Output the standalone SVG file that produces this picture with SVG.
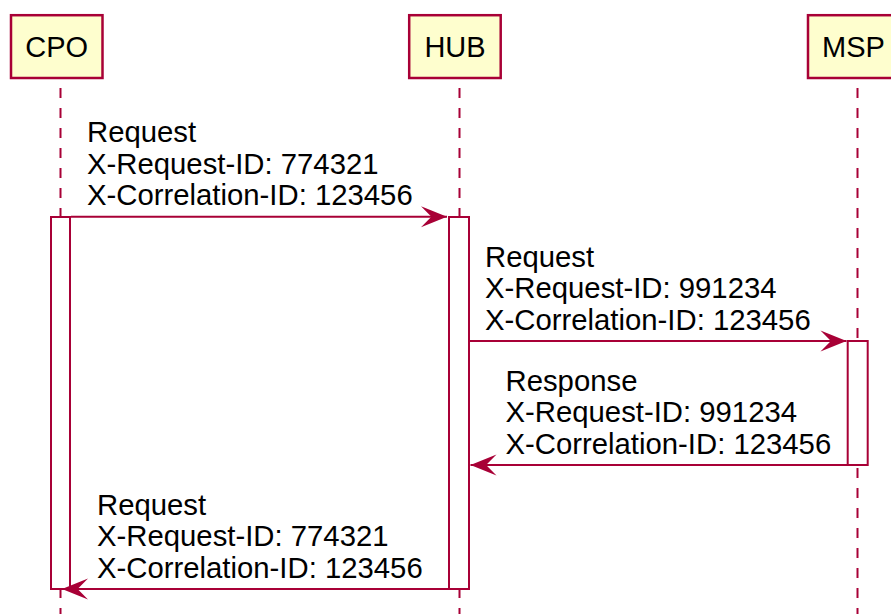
<svg xmlns="http://www.w3.org/2000/svg" width="891" height="614" viewBox="0 0 891 614">
<style>
.part{fill:#FEFECE;stroke:#A80036;stroke-width:2.5}
.ptxt{font-family:"Liberation Sans",Arial,sans-serif;font-size:29px;fill:#000;text-anchor:middle}
.life{stroke:#A80036;stroke-width:2;stroke-dasharray:10,10;fill:none}
.act{fill:#FFFFFF;stroke:#A80036;stroke-width:2}
.msg{stroke:#A80036;stroke-width:2;fill:none;marker-end:url(#arr)}
.mtxt{font-family:"Liberation Sans",Arial,sans-serif;font-size:29.3px;fill:#000}
</style>
<defs>
<marker id="arr" markerUnits="userSpaceOnUse" markerWidth="28" markerHeight="24" viewBox="0 0 28 24" refX="27" refY="12" orient="auto">
<path d="M1,1.5 L27,12 L1,22.5 L11.4,12 Z" fill="#A80036"/>
</marker>
</defs>
<rect width="891" height="614" fill="#FFFFFF"/>
<g id="lifelines">
<line class="life" x1="60.5" y1="88" x2="60.5" y2="614"/>
<line class="life" x1="459.5" y1="88" x2="459.5" y2="614"/>
<line class="life" x1="857.5" y1="88" x2="857.5" y2="614"/>
</g>
<g id="CPO">
<rect class="part" x="11" y="15.2" width="91.5" height="62.8"/>
<text class="ptxt" x="56.7" y="56.5">CPO</text>
<rect class="act" x="51" y="217" width="19" height="372"/>
</g>
<g id="HUB">
<rect class="part" x="409.2" y="15.2" width="91.5" height="62.8"/>
<text class="ptxt" x="455" y="56.5">HUB</text>
<rect class="act" x="449" y="217" width="20" height="372"/>
</g>
<g id="MSP">
<rect class="part" x="808" y="15.2" width="91.5" height="62.8"/>
<text class="ptxt" x="853.5" y="56.5">MSP</text>
<rect class="act" x="847.7" y="341" width="20" height="124"/>
</g>
<g id="connectors">
<line class="msg" x1="71" y1="216.8" x2="447" y2="216.8"/>
<line class="msg" x1="470" y1="341" x2="846.5" y2="341"/>
<line class="msg" x1="847" y1="465" x2="470.5" y2="465"/>
<line class="msg" x1="448" y1="589" x2="62" y2="589"/>
</g>
<g id="labels">
<text class="mtxt" x="87" y="142">Request</text>
<text class="mtxt" x="87" y="173.6">X-Request-ID: 774321</text>
<text class="mtxt" x="87" y="205.2">X-Correlation-ID: 123456</text>
<text class="mtxt" x="485" y="266.6">Request</text>
<text class="mtxt" x="485" y="298.2">X-Request-ID: 991234</text>
<text class="mtxt" x="485" y="329.8">X-Correlation-ID: 123456</text>
<text class="mtxt" x="505.5" y="390.8">Response</text>
<text class="mtxt" x="505.5" y="422.4">X-Request-ID: 991234</text>
<text class="mtxt" x="505.5" y="454">X-Correlation-ID: 123456</text>
<text class="mtxt" x="97" y="514.6">Request</text>
<text class="mtxt" x="97" y="546.2">X-Request-ID: 774321</text>
<text class="mtxt" x="97" y="577.8">X-Correlation-ID: 123456</text>
</g>
</svg>
